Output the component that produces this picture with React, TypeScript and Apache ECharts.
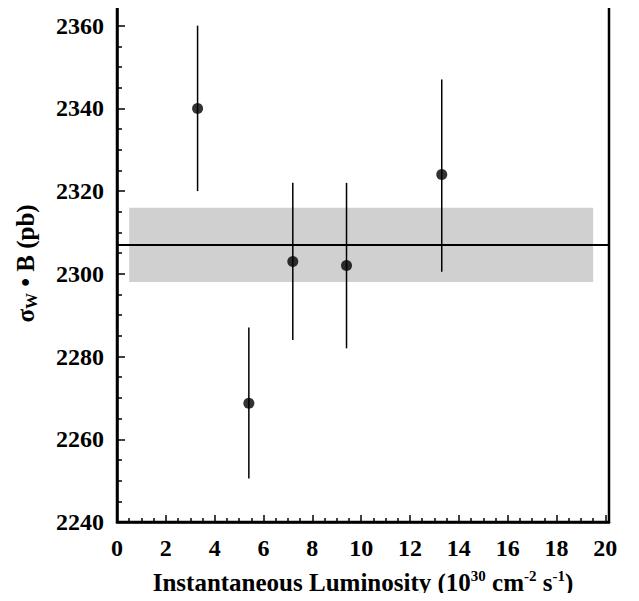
import React, { useEffect, useRef } from "react";
import * as echarts from "echarts";

const lumX = [3.3, 5.4, 7.2, 9.4, 13.3];
const sigmaY = [2340, 2268.7, 2303, 2302, 2324];
const errLow = [2320, 2250.5, 2284, 2282, 2300.5];
const errHigh = [2360, 2287, 2322, 2322, 2347];
const avgValue = 2307;
const bandLow = 2298;
const bandHigh = 2316;
const bandXStart = 0.5;
const bandXEnd = 19.5;
const xTickLabels = ["0", "2", "4", "6", "8", "10", "12", "14", "16", "18", "20"];
const yTickLabels = ["2240", "2260", "2280", "2300", "2320", "2340", "2360"];

const FONT = "Liberation Serif";

export default function App() {
  const ref = useRef<HTMLDivElement>(null);
  useEffect(() => {
    if (!ref.current) return;
    const chart = echarts.init(ref.current, null, { renderer: "svg" });
    const points = lumX.map((x, i) => [x, sigmaY[i]]);
    const bars = lumX.map((x, i) => [x, errLow[i], errHigh[i]]);
    chart.setOption({
      animation: false,
      backgroundColor: "#fff",
      grid: {
        left: 117,
        right: 30,
        top: 5,
        bottom: 79,
        show: true,
        borderColor: "#000",
        borderWidth: 2.5,
        backgroundColor: "transparent",
      },
      xAxis: {
        type: "value",
        min: 0,
        max: 20.15,
        interval: 2,
        name: "{b|Instantaneous Luminosity (10}{sup|30}{b| cm}{sup|-2}{b| s}{sup|-1}{b|)}",
        nameLocation: "middle",
        nameGap: 46,
        nameTextStyle: {
          rich: {
            b: { fontFamily: FONT, fontWeight: "bold", fontSize: 25, color: "#000", lineHeight: 28 },
            sup: { fontFamily: FONT, fontWeight: "bold", fontSize: 15, color: "#000", verticalAlign: "top", lineHeight: 28, padding: [0, 0, 12, 0] },
          },
        },
        axisLine: { show: true, onZero: false, lineStyle: { color: "#000", width: 2.5 } },
        axisTick: { show: true, inside: true, length: 7, lineStyle: { color: "#000", width: 1.5 } },
        minorTick: { show: true, splitNumber: 4, length: 4, lineStyle: { color: "#000", width: 1.5 } },
        splitLine: { show: false },
        minorSplitLine: { show: false },
        axisLabel: {
          showMaxLabel: false,
          margin: 14,
          fontFamily: FONT,
          fontWeight: "bold",
          fontSize: 24,
          color: "#000",
          formatter: (v: number) => {
            const s = String(Math.round(v));
            return Math.abs(v - Math.round(v)) < 1e-6 && xTickLabels.includes(s) ? s : "";
          },
        },
      },
      yAxis: {
        type: "value",
        min: 2240,
        max: 2365,
        interval: 20,
        name: "{b|σ}{sub|W}{b| • B (pb)}",
        nameLocation: "middle",
        nameGap: 78,
        nameTextStyle: {
          rich: {
            b: { fontFamily: FONT, fontWeight: "bold", fontSize: 25, color: "#000", lineHeight: 28 },
            sub: { fontFamily: FONT, fontWeight: "bold", fontSize: 16, color: "#000", verticalAlign: "bottom", lineHeight: 28, padding: [10, 0, 0, 0] },
          },
        },
        axisLine: { show: true, onZero: false, lineStyle: { color: "#000", width: 2.5 } },
        axisTick: { show: true, inside: true, length: 8, lineStyle: { color: "#000", width: 1.5 } },
        minorTick: { show: true, splitNumber: 4, length: 5, lineStyle: { color: "#000", width: 1.5 } },
        splitLine: { show: false },
        minorSplitLine: { show: false },
        axisLabel: {
          showMaxLabel: false,
          margin: 13,
          fontFamily: FONT,
          fontWeight: "bold",
          fontSize: 24,
          color: "#000",
          formatter: (v: number) => {
            const s = String(Math.round(v));
            return yTickLabels.includes(s) && Math.abs(v - Math.round(v)) < 1e-6 ? s : "";
          },
        },
      },
      series: [
        {
          type: "custom",
          name: "errors",
          data: bars,
          z: 3,
          renderItem: (params: any, api: any) => {
            const x = api.value(0);
            const lo = api.coord([x, api.value(1)]);
            const hi = api.coord([x, api.value(2)]);
            return {
              type: "line",
              shape: { x1: lo[0], y1: lo[1], x2: hi[0], y2: hi[1] },
              style: { stroke: "#000", lineWidth: 1.5 },
            };
          },
          markArea: {
            silent: true,
            itemStyle: { color: "#d0d0d0" },
            data: [[{ xAxis: bandXStart, yAxis: bandLow }, { xAxis: bandXEnd, yAxis: bandHigh }]],
          },
          markLine: {
            silent: true,
            symbol: "none",
            label: { show: false },
            lineStyle: { color: "#000", width: 2, type: "solid" },
            data: [{ yAxis: avgValue }],
          },
        },
        {
          type: "scatter",
          name: "points",
          data: points,
          symbol: "circle",
          symbolSize: 11,
          itemStyle: { color: "#000" },
          z: 4,
        },
      ],
    });
    return () => chart.dispose();
  }, []);
  return <div ref={ref} style={{ width: 639, height: 601, margin: -8 }} />;
}
